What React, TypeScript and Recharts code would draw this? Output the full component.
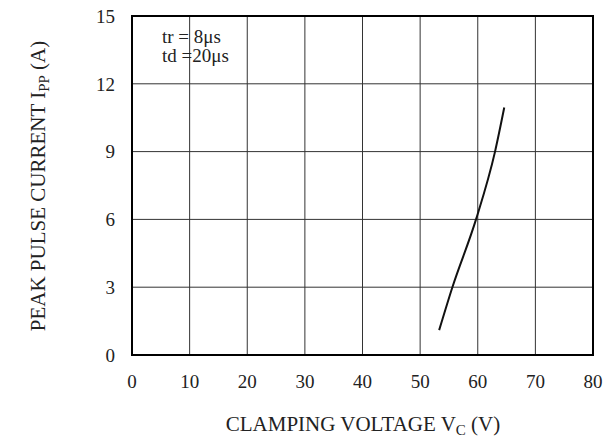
import { LineChart, Line, XAxis, YAxis, CartesianGrid, ReferenceArea, Label } from 'recharts';

// clamping voltage (V) vs peak pulse current (A)
const voltage = [53.3, 55.6, 59.7, 63.0, 64.6];
const current = [1.1, 3, 6, 9, 10.95];

const xTicks = [0, 10, 20, 30, 40, 50, 60, 70, 80];
const yTicks = [0, 3, 6, 9, 12, 15];

const notes = ['tr = 8\u03bcs', 'td =20\u03bcs'];

const FONT = '"Liberation Serif", "Times New Roman", serif';

export default function App() {
  const data = voltage.map((v, i) => ({ voltage: v, current: current[i] }));

  return (
    <div style={{ position: 'absolute', left: 0, top: 0 }}>
      <LineChart
        width={612}
        height={444}
        data={data}
        margin={{ top: 16, right: 19, bottom: 0, left: 0 }}
        style={{ fontFamily: FONT }}
      >
        <CartesianGrid stroke="#333" strokeWidth={1} />
        <XAxis
          type="number"
          dataKey="voltage"
          domain={[0, 80]}
          ticks={xTicks}
          height={89}
          tickLine={false}
          tickSize={0}
          tickMargin={20}
          axisLine={{ stroke: '#000', strokeWidth: 2 }}
          tick={{ fill: '#222', fontSize: 19, fontFamily: FONT }}
        >
          <Label
            content={() => (
              <text x={363} y={431} textAnchor="middle" fill="#222" fontSize={21} fontFamily={FONT}>
                CLAMPING VOLTAGE V
                <tspan fontSize={15} dy={4}>C</tspan>
                <tspan dy={-4}> (V)</tspan>
              </text>
            )}
          />
        </XAxis>
        <YAxis
          type="number"
          domain={[0, 15]}
          ticks={yTicks}
          width={132}
          tickLine={false}
          tickSize={0}
          tickMargin={17}
          axisLine={{ stroke: '#000', strokeWidth: 2 }}
          tick={{ fill: '#222', fontSize: 19, fontFamily: FONT }}
        >
          <Label
            content={() => (
              <g>
                <text
                  x={45}
                  y={186}
                  transform="rotate(-90 45 186)"
                  textAnchor="middle"
                  fill="#222"
                  fontSize={21}
                  fontFamily={FONT}
                >
                  PEAK PULSE CURRENT I
                  <tspan fontSize={15} dy={4}>PP</tspan>
                  <tspan dy={-4}> (A)</tspan>
                </text>
                {notes.map((n, i) => (
                  <text key={n} x={162} y={43 + i * 19} fill="#222" fontSize={19} fontFamily={FONT}>
                    {n}
                  </text>
                ))}
              </g>
            )}
          />
        </YAxis>
        <ReferenceArea
          x1={0}
          x2={80}
          y1={0}
          y2={15}
          fill="none"
          stroke="#000"
          strokeWidth={2}
          ifOverflow="visible"
        />
        <Line
          type="monotone"
          dataKey="current"
          stroke="#111"
          strokeWidth={2}
          dot={false}
          isAnimationActive={false}
        />
      </LineChart>
    </div>
  );
}
